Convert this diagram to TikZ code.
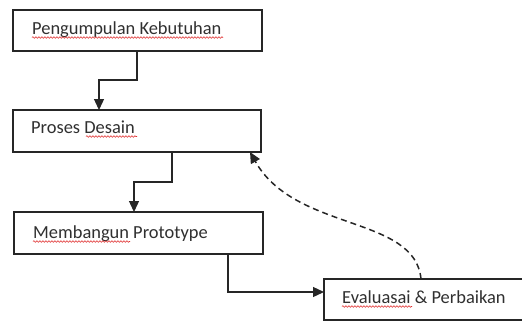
\documentclass[tikz,border=0pt]{standalone}
\usepackage{fontspec}
\setmainfont{Carlito}
\usetikzlibrary{arrows.meta,decorations.pathmorphing}
\definecolor{ln}{HTML}{262626}
\definecolor{tx}{HTML}{303030}
\definecolor{sq}{HTML}{E03030}
\tikzset{
  stepbox/.style={draw=ln,line width=1.3bp,fill=white},
  lbl/.style={anchor=base west,inner sep=0pt,text=tx,font=\fontsize{18.5}{20}\selectfont},
  conn/.style={draw=ln,line width=1.3bp,-{Triangle[width=10bp,length=11bp]}},
  fb/.style={draw=ln,line width=1.5bp,dash pattern=on 6bp off 4bp,-{Triangle[width=10bp,length=11bp]}},
  squig/.style={draw=sq,line width=0.6bp,decorate,decoration={snake,amplitude=0.8bp,segment length=3bp}}
}
\begin{document}
\begin{tikzpicture}[x=1bp,y=-1bp]
\useasboundingbox (0,0) rectangle (522,322);
\clip (0,0) rectangle (522,322);
\path[stepbox] (13,10) rectangle (262,51);
\path[stepbox] (13,110) rectangle (261,152);
\path[stepbox] (14,212) rectangle (263,254);
\path[stepbox] (324,279) rectangle (530,320);
\node[lbl] (t1) at (32,34) {Pengumpulan Kebutuhan};
\node[lbl] (t2) at (31,133) {Proses Desain};
\node[lbl] (t3) at (33,238) {Membangun Prototype};
\node[lbl] (t4) at (342,303) {Evaluasai \& Perbaikan};
\coordinate (a1s) at (137,51);
\coordinate (a1e) at (99,110);
\coordinate (a2s) at (172,152);
\coordinate (a2e) at (134,212);
\coordinate (a3s) at (228,254);
\coordinate (a3e) at (324,292);
\coordinate (fbs) at (421,279);
\coordinate (fbe) at (250,152);
\draw[conn] (a1s) |- (118,80) -| (a1e);
\draw[conn] (a2s) |- (153,182) -| (a2e);
\draw[conn] (a3s) |- (a3e);
\draw[fb] (fbs) .. controls (415,215) and (295,232) .. (fbe);
\draw[squig] (32,37.5) -- (223,37.5);
\draw[squig] (86,136.5) -- (137,136.5);
\draw[squig] (33,241.5) -- (130,241.5);
\draw[squig] (342,306.5) -- (412,306.5);
\end{tikzpicture}
\end{document}
